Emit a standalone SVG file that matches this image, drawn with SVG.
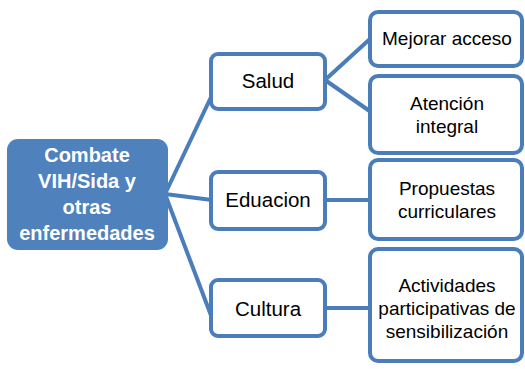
<svg xmlns="http://www.w3.org/2000/svg" width="525" height="369" viewBox="0 0 525 369">
<style>
.box{fill:#ffffff;stroke:#4A7DBA;stroke-width:4}
.t{font-family:"Liberation Sans",Arial,sans-serif;font-size:19px;fill:#000;text-anchor:middle}
.m{font-family:"Liberation Sans",Arial,sans-serif;font-size:20.5px;fill:#000;text-anchor:middle}
.c{font-family:"Liberation Sans",Arial,sans-serif;font-size:20px;font-weight:bold;fill:#fff;text-anchor:middle}
.ln{stroke:#4A7DBA;stroke-width:4;fill:none}
</style>
<rect width="525" height="369" fill="#ffffff"/>
<g id="connectors">
<line class="ln" x1="165" y1="194" x2="212" y2="95"/>
<line class="ln" x1="165" y1="194" x2="212" y2="200"/>
<line class="ln" x1="165" y1="194" x2="212" y2="318"/>
<line class="ln" x1="325" y1="80" x2="371" y2="38"/>
<line class="ln" x1="325" y1="80" x2="371" y2="112"/>
<line class="ln" x1="325" y1="200" x2="371" y2="200"/>
<line class="ln" x1="325" y1="308" x2="371" y2="308"/>
</g>
<g id="root">
<rect x="7" y="139" width="161" height="111" rx="11" fill="#4F81BD"/>
<text class="c" x="87" y="162">Combate</text>
<text class="c" x="87" y="188">VIH/Sida y</text>
<text class="c" x="87" y="214">otras</text>
<text class="c" x="87" y="240">enfermedades</text>
</g>
<g id="salud">
<rect class="box" x="211" y="54" width="114" height="55" rx="7"/>
<text class="m" x="268" y="88">Salud</text>
</g>
<g id="eduacion">
<rect class="box" x="211" y="172" width="114" height="57" rx="7"/>
<text class="m" x="268" y="207">Eduacion</text>
</g>
<g id="cultura">
<rect class="box" x="211" y="280" width="114" height="56" rx="7"/>
<text class="m" x="268" y="316">Cultura</text>
</g>
<g id="mejorar">
<rect class="box" x="370" y="12" width="152" height="54" rx="8"/>
<text class="t" x="447" y="45">Mejorar acceso</text>
</g>
<g id="atencion">
<rect class="box" x="370" y="76" width="152" height="77" rx="8"/>
<text class="t" x="447" y="110">Atención</text>
<text class="t" x="447" y="133">integral</text>
</g>
<g id="propuestas">
<rect class="box" x="370" y="160" width="152" height="79" rx="8"/>
<text class="t" x="447" y="195">Propuestas</text>
<text class="t" x="447" y="218">curriculares</text>
</g>
<g id="actividades">
<rect class="box" x="370" y="249" width="152" height="112" rx="8"/>
<text class="t" x="447" y="292">Actividades</text>
<text class="t" x="447" y="315">participativas de</text>
<text class="t" x="447" y="338">sensibilización</text>
</g>
</svg>
